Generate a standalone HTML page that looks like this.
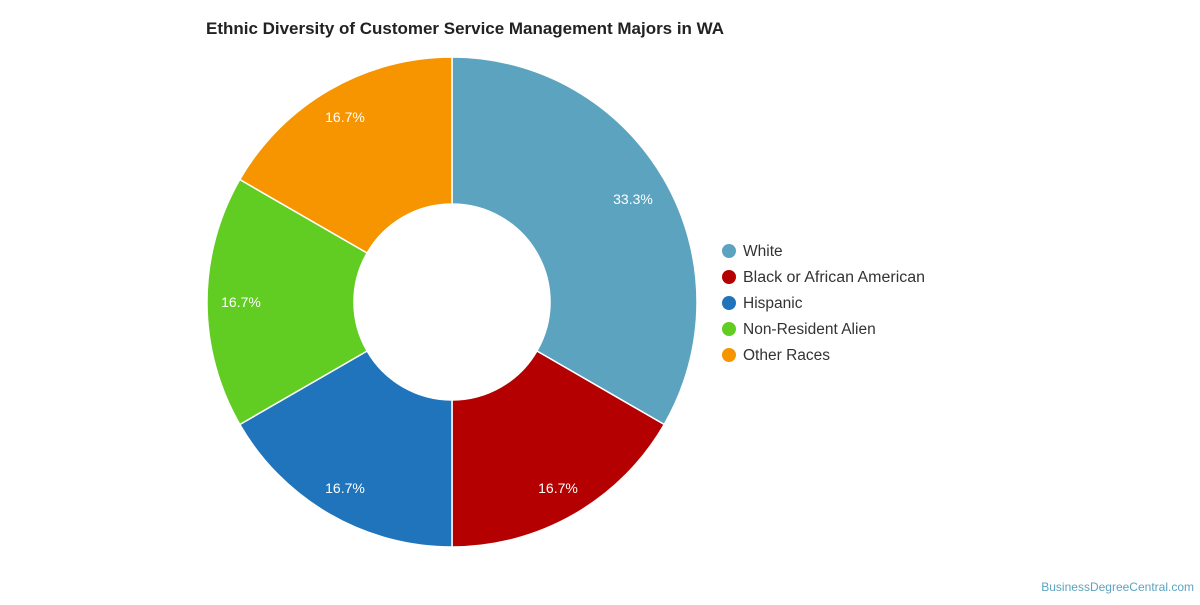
<!DOCTYPE html>
<html><head><meta charset="utf-8"><style>
body{margin:0;background:#fff;width:1200px;height:600px;overflow:hidden;font-family:"Liberation Sans",Arial,sans-serif}
</style></head><body>
<svg width="1200" height="600" xmlns="http://www.w3.org/2000/svg" font-family="Liberation Sans, Arial, sans-serif">
<rect width="1200" height="600" fill="#fff"/>
<text x="206" y="34" font-size="16.5" font-weight="bold" fill="#222" textLength="518" lengthAdjust="spacingAndGlyphs">Ethnic Diversity of Customer Service Management Majors in WA</text>
<g stroke="#fff" stroke-width="1.5">
<path d="M452,57 A245,245 0 0 1 664.2,424.5 L536.9,351 A98,98 0 0 0 452,204 Z" fill="#5ca3bf"/>
<path d="M664.2,424.5 A245,245 0 0 1 452,547 L452,400 A98,98 0 0 0 536.9,351 Z" fill="#b40000"/>
<path d="M452,547 A245,245 0 0 1 239.8,424.5 L367.1,351 A98,98 0 0 0 452,400 Z" fill="#1f74bb"/>
<path d="M239.8,424.5 A245,245 0 0 1 239.8,179.5 L367.1,253 A98,98 0 0 0 367.1,351 Z" fill="#61cc22"/>
<path d="M239.8,179.5 A245,245 0 0 1 452,57 L452,204 A98,98 0 0 0 367.1,253 Z" fill="#f79500"/>
</g>
<g font-size="14" fill="#fff" text-anchor="middle">
<text x="633" y="204">33.3%</text>
<text x="558" y="493">16.7%</text>
<text x="345" y="493">16.7%</text>
<text x="241" y="307">16.7%</text>
<text x="345" y="122">16.7%</text>
</g>
<g font-size="15.5" fill="#333">
<circle cx="729" cy="251" r="7" fill="#5ca3bf"/><text x="743" y="256">White</text>
<circle cx="729" cy="277" r="7" fill="#b40000"/><text x="743" y="282" textLength="182" lengthAdjust="spacingAndGlyphs">Black or African American</text>
<circle cx="729" cy="303" r="7" fill="#1f74bb"/><text x="743" y="308">Hispanic</text>
<circle cx="729" cy="329" r="7" fill="#61cc22"/><text x="743" y="334">Non-Resident Alien</text>
<circle cx="729" cy="355" r="7" fill="#f79500"/><text x="743" y="360">Other Races</text>
</g>
<text x="1194" y="591" font-size="12" fill="#5ca3bf" text-anchor="end">BusinessDegreeCentral.com</text>
</svg>
</body></html>
